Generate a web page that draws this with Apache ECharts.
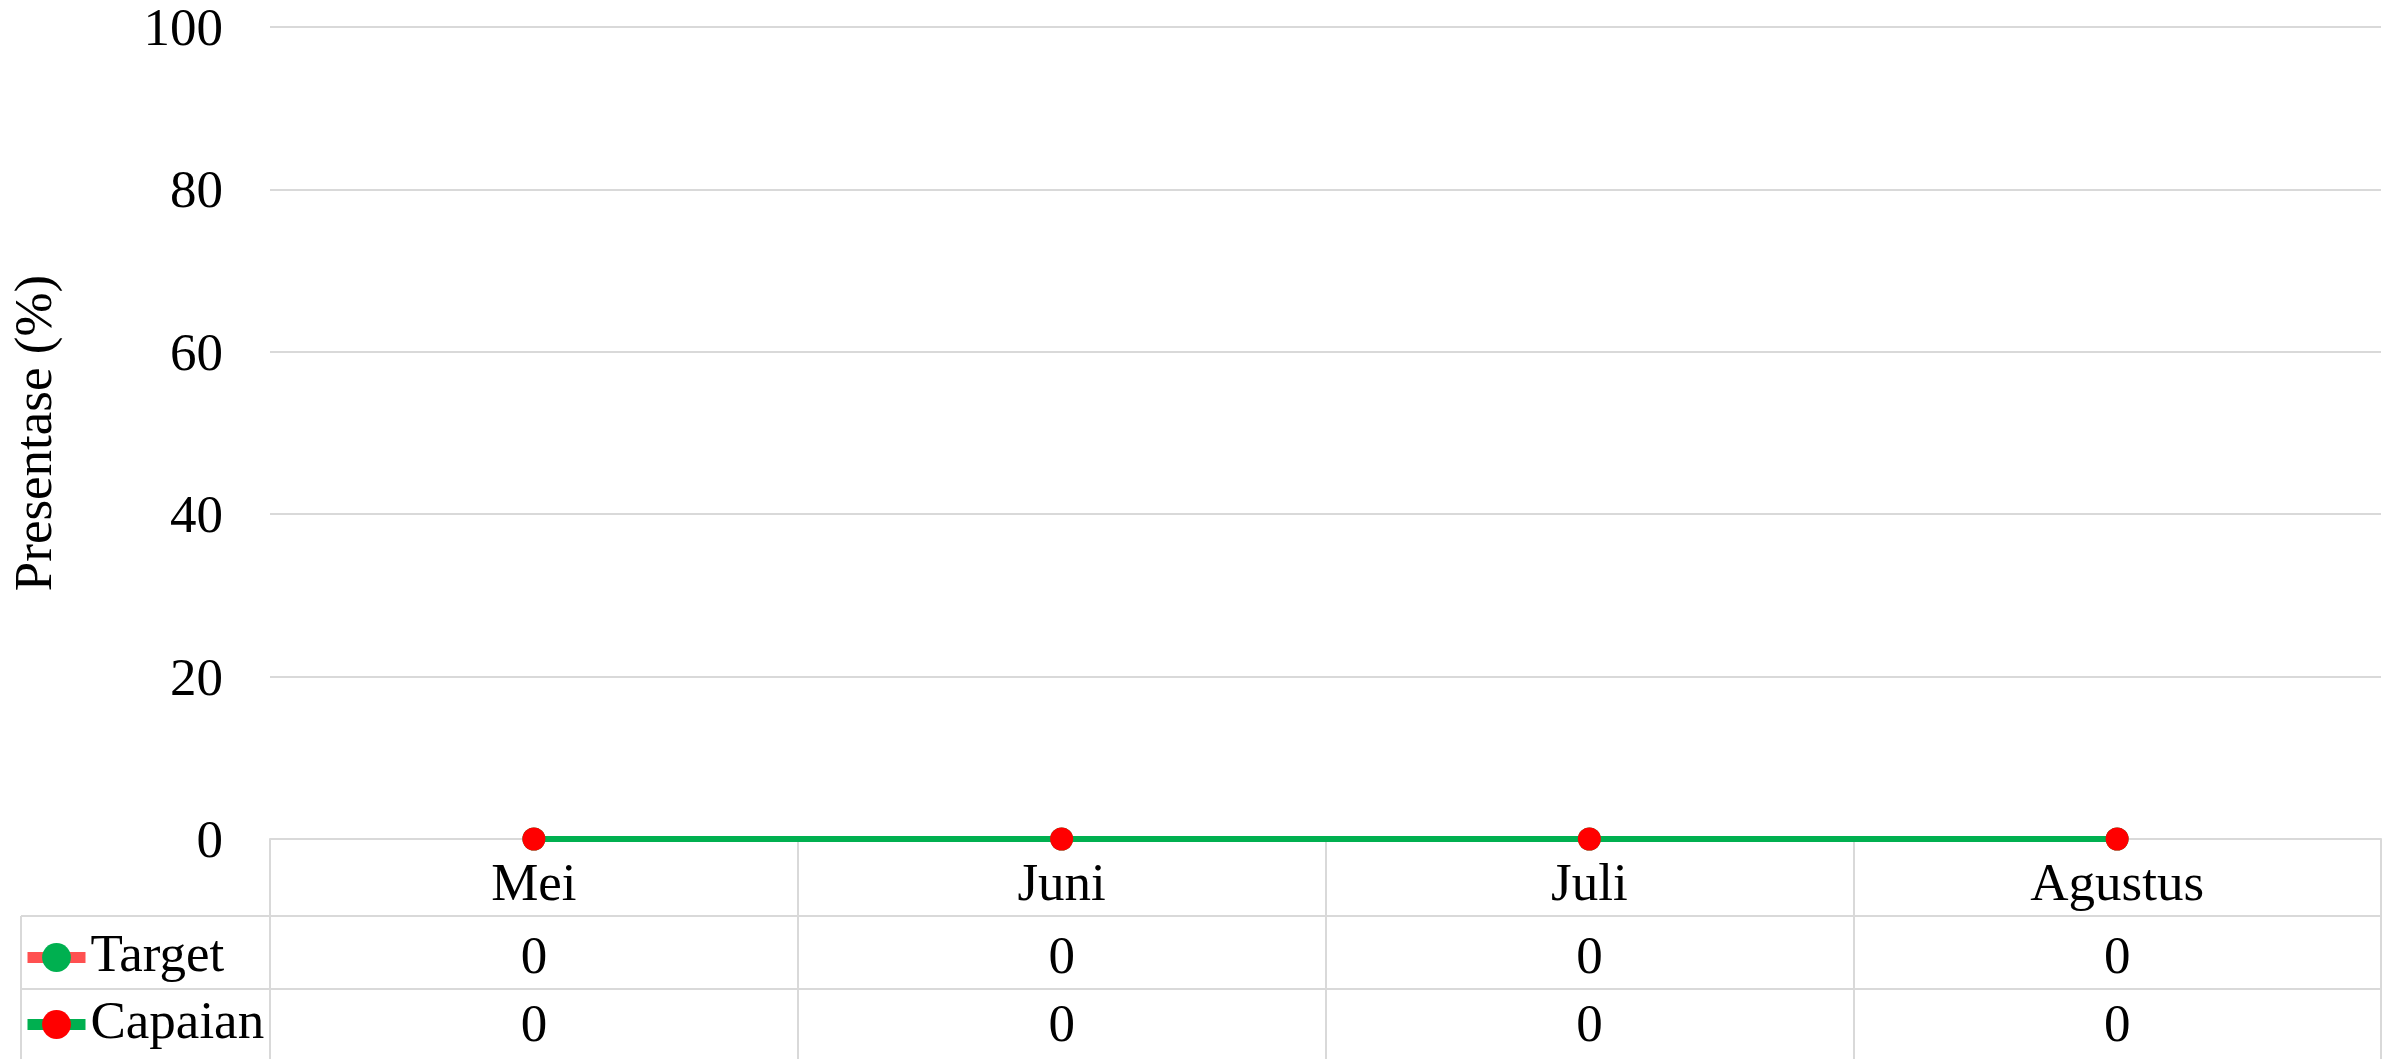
<!DOCTYPE html>
<html>
<head>
<meta charset="utf-8">
<script src="https://cdn.jsdelivr.net/npm/echarts@6/dist/echarts.min.js"></script>
<style>
    html, body { margin: 0; padding: 0; background: #fff; }
    #capaian { width: 2394px; height: 1059px; }
</style>
</head>
<body>
<div id="capaian"></div>
<script>
// data
var bulan = ['Mei', 'Juni', 'Juli', 'Agustus'];
var target = [0, 0, 0, 0];
var capaian = [0, 0, 0, 0];
var yTicks = [0, 20, 40, 60, 80, 100];

var font = "'Liberation Serif', 'Times New Roman', serif";
var gridColor = '#D9D9D9';

// layout of plot + data table (pixels)
var gLeft = 270, gRight = 13, gTop = 27, gBottom = 220;
var row0 = 77, row1 = 73, row2 = 70;   // heights: category row, Target row, Capaian row
var tableLeft = 21;
var H = 1059;
var axisY = H - gBottom;

let myChart = echarts.init(document.getElementById('capaian'));

function tableAxis(offset, len, labels, margin) {
    return {
        type: 'category',
        data: bulan,
        position: 'bottom',
        offset: offset,
        boundaryGap: true,
        axisLine: { show: true, lineStyle: { color: gridColor, width: 2 } },
        axisTick: { show: true, interval: 0, length: len, lineStyle: { color: gridColor, width: 2 } },
        axisLabel: {
            interval: 0,
            margin: margin,
            color: '#000',
            fontFamily: font,
            fontSize: 53,
            formatter: function (v, i) { return String(labels[i]); }
        },
        splitLine: { show: false }
    };
}

function legendRow(name, top) {
    return {
        left: 22,
        top: top,
        padding: 0,
        itemWidth: 58,
        itemHeight: 36,
        selectedMode: false,
        data: [name],
        lineStyle: { width: 11 },
        textStyle: { fontFamily: font, fontSize: 53, color: '#000' }
    };
}

myChart.setOption({
    animation: false,
    grid: { left: gLeft, right: gRight, top: gTop, bottom: gBottom, containLabel: false },
    legend: [
        legendRow('Target', 931),
        legendRow('Capaian', 998)
    ],
    xAxis: [
        tableAxis(0, row0, bulan, 21),
        tableAxis(row0, row1, target, 17),
        tableAxis(row0 + row1, row2, capaian, 12)
    ],
    yAxis: {
        type: 'value',
        min: 0,
        max: 100,
        interval: 20,
        name: 'Presentase (%)',
        nameLocation: 'middle',
        nameGap: 206,
        nameTextStyle: { fontFamily: font, fontSize: 53, color: '#000' },
        axisLine: { show: false },
        axisTick: { show: false },
        axisLabel: {
            margin: 47,
            color: '#000',
            fontFamily: font,
            fontSize: 53,
            verticalAlign: 'top',
            lineHeight: 8,
            formatter: function (v) { return yTicks.indexOf(v) > -1 ? String(v) : ''; }
        },
        splitLine: { lineStyle: { color: gridColor, width: 2 } }
    },
    series: [{
        name: 'Target',
        type: 'line',
        data: target,
        symbol: 'circle',
        symbolSize: 23,
        lineStyle: { color: '#FF5050', width: 6 },
        itemStyle: { color: '#00B050' }
    }, {
        name: 'Capaian',
        type: 'line',
        data: capaian,
        symbol: 'circle',
        symbolSize: 23,
        lineStyle: { color: '#00B050', width: 6 },
        itemStyle: { color: '#FF0000' }
    }],
    // left column of the data table (legend keys column)
    graphic: [{
        type: 'line',
        shape: { x1: tableLeft, y1: axisY + row0, x2: gLeft, y2: axisY + row0 },
        style: { stroke: gridColor, lineWidth: 2 }
    }, {
        type: 'line',
        shape: { x1: tableLeft, y1: axisY + row0 + row1, x2: gLeft, y2: axisY + row0 + row1 },
        style: { stroke: gridColor, lineWidth: 2 }
    }, {
        type: 'line',
        shape: { x1: tableLeft, y1: axisY + row0, x2: tableLeft, y2: H },
        style: { stroke: gridColor, lineWidth: 2 }
    }]
});
</script>
</body>
</html>
